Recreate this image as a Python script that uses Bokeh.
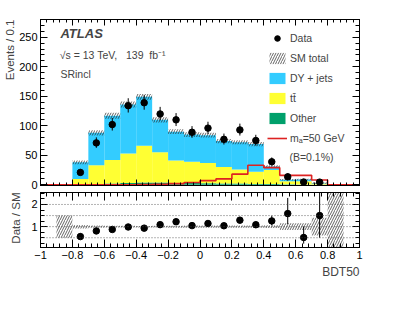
import numpy as np
from bokeh.plotting import figure
from bokeh.layouts import column
from bokeh.models import (Range1d, LinearAxis, FixedTicker, Label, Legend, LegendItem,
                          Span, CustomJSTickFormatter, Title)
from bokeh.embed import file_html
from bokeh.resources import INLINE

# ---------------- data ----------------
bin_lo = [-1.0, -0.9, -0.8, -0.7, -0.6, -0.5, -0.4, -0.3, -0.2, -0.1,
          0.0, 0.1, 0.2, 0.3, 0.4, 0.5, 0.6, 0.7, 0.8, 0.9]
bin_hi = [-0.9, -0.8, -0.7, -0.6, -0.5, -0.4, -0.3, -0.2, -0.1, 0.0,
          0.1, 0.2, 0.3, 0.4, 0.5, 0.6, 0.7, 0.8, 0.9, 1.0]
other = [0.0, 0.1, 0.5, 1.0, 2.0, 3.0, 4.0, 4.0, 3.0, 3.0,
         2.5, 2.0, 2.0, 1.5, 1.5, 1.0, 0.5, 0.3, 0.0, 0.0]
ttbar = [0.0, 0.2, 9.5, 32.0, 40.0, 50.0, 62.0, 51.0, 38.0, 36.0,
         34.5, 28.0, 24.0, 20.5, 23.5, 5.0, 5.5, 1.7, 0.05, 0.0]
dyjets = [0.0, 0.7, 28.0, 55.0, 75.0, 83.0, 83.0, 55.0, 49.0, 46.0,
          47.0, 44.0, 46.0, 47.0, 6.0, 2.5, 3.0, 1.0, 0.05, 0.0]
sm_unc = [0.0, 0.5, 3.0, 4.5, 5.0, 5.0, 5.0, 4.5, 4.0, 4.0,
          4.0, 3.5, 3.5, 3.5, 2.0, 1.3, 1.4, 1.2, 1.0, 0.0]
signal = [0.0, 0.0, 0.0, 0.0, 0.0, 0.0, 0.5, 1.0, 2.0, 4.0,
          7.0, 10.0, 18.0, 33.0, 29.0, 16.0, 16.0, 8.0, 0.0, 0.0]

data_x = [-0.75, -0.65, -0.55, -0.45, -0.35, -0.25, -0.15, -0.05,
          0.05, 0.15, 0.25, 0.35, 0.45, 0.55, 0.65, 0.75]
data_y = [21, 71, 102, 134, 139, 120, 110, 89, 96, 77, 93, 75, 39, 13.5, 4.6, 4.5]
data_up = [5.6, 9.4, 11.1, 12.6, 12.8, 12.0, 11.5, 10.4, 10.8, 9.8, 10.6, 9.7, 7.3, 6.0, 4.5, 4.5]
data_dn = [4.5, 8.4, 10.1, 11.6, 11.8, 11.0, 10.5, 9.4, 9.8, 8.8, 9.6, 8.7, 6.2, 4.0, 2.5, 3.0]

x_ticks = [-1.0, -0.8, -0.6, -0.4, -0.2, 0.0, 0.2, 0.4, 0.6, 0.8, 1.0]
y_ticks = [0, 50, 100, 150, 200, 250]
r_ticks = [1, 2]

# ---------------- derived ----------------
lo = np.array(bin_lo); hi = np.array(bin_hi)
oth = np.array(other); tt = np.array(ttbar); dy = np.array(dyjets)
unc = np.array(sm_unc)
c1 = oth; c2 = oth + tt; tot = oth + tt + dy
edges = list(bin_lo) + [bin_hi[-1]]
sig_step = list(signal) + [signal[-1]]
mask = tot > 0
dx = np.array(data_x); dyv = np.array(data_y)
idx = [int(np.argmin(np.abs((lo + hi) / 2 - v))) for v in data_x]
tot_at = tot[idx]
ratio = dyv / tot_at
r_up = np.array(data_up) / tot_at
r_dn = np.array(data_dn) / tot_at

DY_C = "#33ccff"
TT_C = "#ffff33"
OT_C = "#00a06b"
SIG_C = "#dd2222"
FONT = "Liberation Sans"

# ---------------- figures ----------------
H1 = 190
p1 = figure(width=399, height=H1, x_range=Range1d(-1, 1), y_range=Range1d(-1.2, 280),
            output_backend="svg", toolbar_location=None,
            min_border_left=40, min_border_right=40, min_border_top=19,
            min_border_bottom=H1 - 185)
p2 = figure(width=399, height=309 - H1, x_range=p1.x_range, y_range=Range1d(0.06, 2.54),
            output_backend="svg", toolbar_location=None,
            min_border_left=40, min_border_right=40, min_border_top=192 - H1,
            min_border_bottom=309 - 247)

for p in (p1, p2):
    p.grid.visible = False
    p.outline_line_color = "black"
    p.background_fill_color = "white"
    p.border_fill_color = "white"
    p.add_layout(LinearAxis(), "above")
    p.add_layout(LinearAxis(), "right")

xfmt = CustomJSTickFormatter(code="""
const r = Math.round(tick);
const s = Math.abs(tick - r) < 1e-9 ? r.toString() : tick.toFixed(1);
return s.replace('-', '\\u2212');
""")


def style(ax, major_in, minor_in, labels, ticker, fmt=None):
    ax.ticker = ticker
    ax.major_tick_in = major_in
    ax.major_tick_out = 0
    ax.minor_tick_in = minor_in
    ax.minor_tick_out = 0
    ax.axis_line_color = "black"
    ax.major_tick_line_color = "black"
    ax.minor_tick_line_color = "black"
    ax.major_label_text_font = FONT
    ax.major_label_text_color = "black"
    if labels:
        if fmt is not None:
            ax.formatter = fmt
        ax.major_label_text_font_size = "11px"
        ax.major_label_standoff = 3
    else:
        ax.formatter = CustomJSTickFormatter(code="return '';")
        ax.major_label_text_font_size = "0px"
        ax.major_label_standoff = 0


xt = FixedTicker(ticks=x_ticks, minor_ticks=list(np.round(np.arange(-1, 1.0001, 0.04), 3)))
yt = FixedTicker(ticks=y_ticks, minor_ticks=list(np.arange(0, 281, 10)))
rt = FixedTicker(ticks=r_ticks, minor_ticks=list(np.arange(0.25, 2.51, 0.25)))

for ax in p1.below + p1.above:
    style(ax, 6, 3, False, xt)
style(p1.left[0], 7, 4, True, yt)
style(p1.right[0], 7, 4, False, yt)
for ax in p2.above:
    style(ax, 8, 4, False, xt)
style(p2.below[0], 8, 4, True, xt, xfmt)
style(p2.left[0], 7, 4, True, rt)
style(p2.right[0], 7, 4, False, rt)

# ---------------- main panel ----------------
r_oth = p1.quad(left=lo, right=hi, bottom=np.zeros_like(c1), top=c1,
                fill_color=OT_C, line_color=None)
r_tt = p1.quad(left=lo, right=hi, bottom=c1, top=c2, fill_color=TT_C, line_color=None)
r_dy = p1.quad(left=lo, right=hi, bottom=c2, top=tot, fill_color=DY_C, line_color=None)
r_hatch = p1.quad(left=lo[mask], right=hi[mask], bottom=(tot - unc)[mask], top=(tot + unc)[mask],
                  fill_alpha=0, line_alpha=0, hatch_pattern="/", hatch_color="#222222",
                  hatch_scale=5, hatch_weight=0.7)
r_smline = p1.line(x=[], y=[], line_color=DY_C, line_width=1.5)
r_sig = p1.step(x=edges, y=sig_step, mode="after", line_color=SIG_C, line_width=1.6)
p1.segment(x0=dx, y0=dyv - np.array(data_dn), x1=dx, y1=dyv + np.array(data_up),
           line_color="black", line_width=1)
r_data = p1.scatter(x=dx, y=dyv, size=6.5, color="black")

legend = Legend(items=[
    LegendItem(label="Data", renderers=[r_data]),
    LegendItem(label="SM total", renderers=[r_hatch, r_smline]),
    LegendItem(label="DY + jets", renderers=[r_dy]),
    LegendItem(label="t\u0074\u0304", renderers=[r_tt]),
    LegendItem(label="Other", renderers=[r_oth]),
    LegendItem(label="m\u2090=50 GeV", renderers=[r_sig]),
], location=(227, 40), glyph_width=20, glyph_height=14, label_height=14, spacing=6,
    padding=0, margin=0, border_line_alpha=0, background_fill_alpha=0, label_standoff=3,
    label_text_font=FONT, label_text_font_size="10.5px")
p1.add_layout(legend)

p1.add_layout(Label(x=0.561, y=47.8, text="(B=0.1%)", text_font=FONT, text_font_size="10.5px",
                    text_baseline="middle"))
p1.add_layout(Label(x=-0.875, y=255.5, text="ATLAS", text_font=FONT, text_font_size="13px",
                    text_font_style="bold italic", text_baseline="alphabetic"))
p1.add_layout(Label(x=-0.879, y=220.5,
                    text="\u221as = 13 TeV,\u00a0\u00a0\u00a0139\u00a0\u00a0fb\u207b\u00b9",
                    text_font=FONT, text_font_size="10.5px", text_baseline="alphabetic"))
p1.add_layout(Label(x=-0.875, y=187.5, text="SRincl", text_font=FONT, text_font_size="10.5px",
                    text_baseline="alphabetic"))
p1.add_layout(Title(text="Events / 0.1", align="right", text_font=FONT, text_font_size="11.5px",
                    text_font_style="normal", standoff=2, offset=0), "left")

# ---------------- ratio panel ----------------
for v in [0.5, 1.0, 1.5, 2.0]:
    p2.add_layout(Span(location=v, dimension="width", line_color="#444444",
                       line_dash="1 2", line_width=0.8))
p2.quad(left=lo[mask], right=hi[mask], bottom=1 - (unc / np.where(mask, tot, 1))[mask],
        top=1 + (unc / np.where(mask, tot, 1))[mask],
        fill_alpha=0, line_alpha=0, hatch_pattern="/", hatch_color="#222222",
        hatch_scale=5, hatch_weight=0.7)
p2.segment(x0=dx, y0=ratio - r_dn, x1=dx, y1=ratio + r_up, line_color="black", line_width=1)
p2.scatter(x=dx, y=ratio, size=6.5, color="black")
p2.add_layout(Title(text="Data / SM", align="right", text_font=FONT, text_font_size="11.5px",
                    text_font_style="normal", standoff=13, offset=0), "left")
p2.add_layout(Title(text="BDT50", align="right", text_font=FONT, text_font_size="12px",
                    text_font_style="normal", standoff=2, offset=0), "below")

layout = column(p1, p2, spacing=0)
open("out.html", "w").write(file_html(layout, INLINE))
